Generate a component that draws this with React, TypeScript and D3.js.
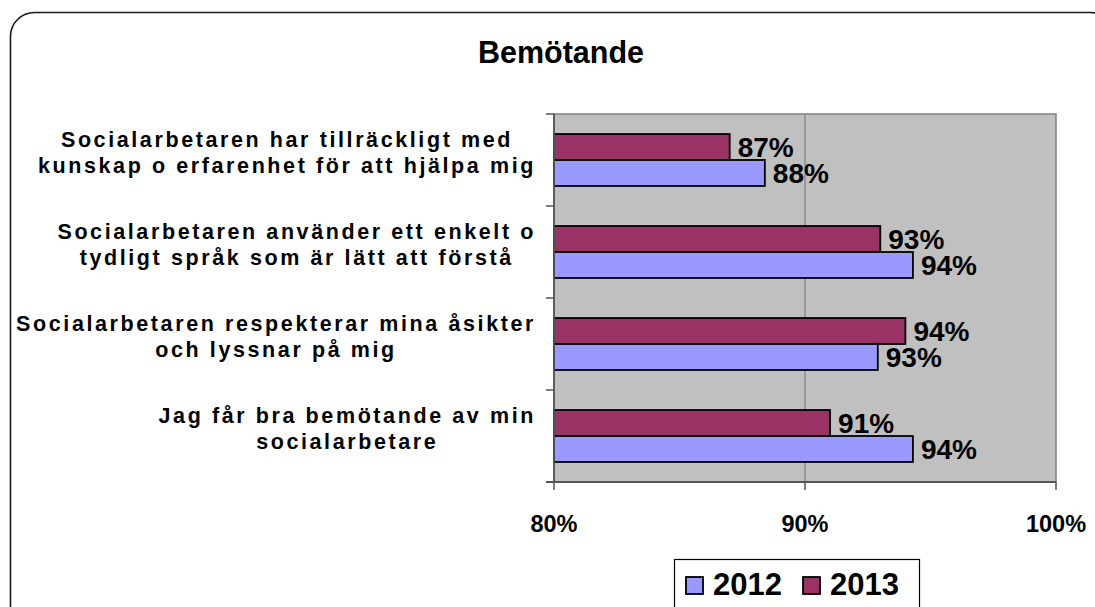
import React, { useMemo } from "react";
import * as d3 from "d3";

const categories: string[][] = [
  ["Socialarbetaren har tillräckligt med", "kunskap o erfarenhet för att hjälpa mig"],
  ["Socialarbetaren använder ett enkelt o", "tydligt språk som är lätt att förstå"],
  ["Socialarbetaren respekterar mina åsikter", "och lyssnar på mig"],
  ["Jag får bra bemötande av min", "socialarbetare"],
];
const series2012: number[] = [88.4, 94.3, 92.9, 94.3];
const series2013: number[] = [87.0, 93.0, 94.0, 91.0];
const seriesNames: string[] = ["2012", "2013"];
const xTicks: number[] = [80, 90, 100];
const title = "Bemötande";

const W = 1095;
const H = 607;
const FONT = "'Liberation Sans', Arial, Helvetica, sans-serif";
const C2012 = "#9999FF";
const C2013 = "#993366";

export default function App() {
  const plot = { left: 554, right: 1056, top: 114, bottom: 482 };
  const x = d3.scaleLinear().domain([80, 100]).range([plot.left, plot.right]);
  const y = d3
    .scaleBand<number>()
    .domain(d3.range(categories.length))
    .range([plot.top, plot.bottom])
    .paddingInner(0.435)
    .paddingOuter(0.2175);
  const sub = d3
    .scaleBand<string>()
    .domain(["2013", "2012"])
    .range([0, y.bandwidth()]);

  const labelFontSize = 21.5;
  const labelLS = 2.6;
  const widths = useMemo(() => {
    const c = document.createElement("canvas");
    const ctx = c.getContext("2d") as any;
    ctx.font = `bold ${labelFontSize}px ${FONT}`;
    try {
      ctx.letterSpacing = `${labelLS}px`;
    } catch (e) {}
    return categories.map((lines) =>
      Math.max(...lines.map((l) => ctx.measureText(l).width))
    );
  }, []);
  const labelRight = 536;

  const bandStep = y.step();
  const catTicks = d3.range(categories.length + 1).map(
    (i) => plot.top + i * bandStep
  );

  return (
    <svg
      width={W}
      height={H}
      style={{ position: "absolute", left: 0, top: 0, background: "#fff" }}
      fontFamily={FONT}
    >
      <rect
        x={10.5}
        y={12.5}
        width={1104}
        height={640}
        rx={24}
        ry={24}
        fill="#fff"
        stroke="#1a1a1a"
        strokeWidth={1.6}
      />
      <text
        x={561}
        y={63}
        textAnchor="middle"
        fontSize={30.5}
        fontWeight="bold"
        fill="#000"
      >
        {title}
      </text>

      <rect
        x={plot.left}
        y={plot.top}
        width={plot.right - plot.left}
        height={plot.bottom - plot.top}
        fill="#C0C0C0"
        stroke="#808080"
        strokeWidth={1.5}
      />
      {xTicks.slice(1, -1).map((t) => (
        <line
          key={t}
          x1={x(t)}
          x2={x(t)}
          y1={plot.top}
          y2={plot.bottom}
          stroke="#808080"
          strokeWidth={1.2}
        />
      ))}

      {categories.map((_, i) => {
        const y0 = y(i) as number;
        const vals: [string, number, string][] = [
          ["2013", series2013[i], C2013],
          ["2012", series2012[i], C2012],
        ];
        return (
          <g key={i}>
            {vals.map(([name, v, col]) => {
              const by = y0 + (sub(name) as number);
              return (
                <g key={name}>
                  <rect
                    x={x(80)}
                    y={by}
                    width={x(v) - x(80)}
                    height={sub.bandwidth()}
                    fill={col}
                    stroke="#000"
                    strokeWidth={1.8}
                  />
                  <text
                    x={x(v) + 8}
                    y={by + sub.bandwidth() / 2 + 10}
                    fontSize={28}
                    fontWeight="bold"
                    fill="#000"
                  >
                    {Math.round(v)}%
                  </text>
                </g>
              );
            })}
          </g>
        );
      })}

      <line
        x1={plot.left}
        x2={plot.left}
        y1={plot.top}
        y2={plot.bottom}
        stroke="#555"
        strokeWidth={1.8}
      />
      <line
        x1={plot.left - 8}
        x2={plot.right}
        y1={plot.bottom}
        y2={plot.bottom}
        stroke="#555"
        strokeWidth={1.8}
      />
      {catTicks.map((t, i) => (
        <line
          key={i}
          x1={plot.left - 8}
          x2={plot.left}
          y1={t}
          y2={t}
          stroke="#555"
          strokeWidth={1.5}
        />
      ))}
      {xTicks.map((t) => (
        <g key={t}>
          <line
            x1={x(t)}
            x2={x(t)}
            y1={plot.bottom}
            y2={plot.bottom + 8}
            stroke="#555"
            strokeWidth={1.5}
          />
          <text
            x={x(t)}
            y={532}
            textAnchor="middle"
            fontSize={23.5}
            fontWeight="bold"
            fill="#000"
          >
            {t}%
          </text>
        </g>
      ))}

      {categories.map((lines, i) => {
        const cy = (y(i) as number) + y.bandwidth() / 2;
        const cx = labelRight - widths[i] / 2;
        return (
          <g key={i}>
            {lines.map((l, j) => (
              <text
                key={j}
                x={cx}
                y={cy - 13 + j * 26}
                textAnchor="middle"
                fontSize={labelFontSize}
                fontWeight="bold"
                letterSpacing={labelLS}
                fill="#000"
              >
                {l}
              </text>
            ))}
          </g>
        );
      })}

      <rect
        x={674.5}
        y={559.5}
        width={245}
        height={60}
        fill="#fff"
        stroke="#000"
        strokeWidth={1.2}
      />
      {seriesNames.map((n, i) => {
        const lx = 686 + i * 117;
        return (
          <g key={n}>
            <rect
              x={lx}
              y={577}
              width={17}
              height={17}
              fill={n === "2012" ? C2012 : C2013}
              stroke="#000"
              strokeWidth={1.8}
            />
            <text
              x={lx + 27}
              y={595}
              fontSize={31}
              fontWeight="bold"
              fill="#000"
            >
              {n}
            </text>
          </g>
        );
      })}
    </svg>
  );
}
